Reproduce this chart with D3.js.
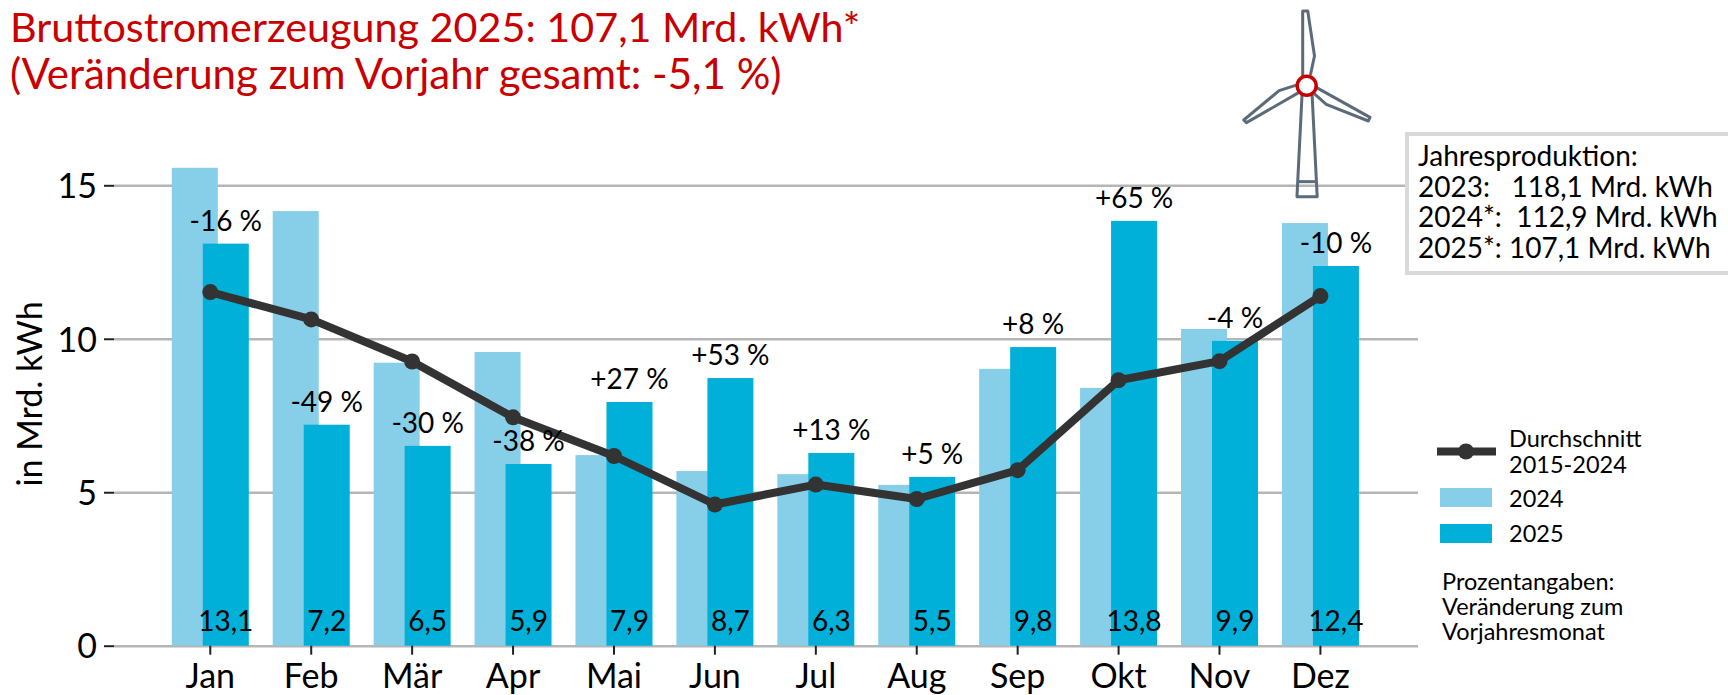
<!DOCTYPE html>
<html lang="de"><head><meta charset="utf-8">
<script src="https://cdn.jsdelivr.net/npm/d3@7/dist/d3.min.js"></script>
<style>
html,body{margin:0;padding:0;background:#fff;overflow:hidden}
text{font-family:Lato,"Noto Sans",sans-serif;fill:#000;white-space:pre}
</style></head><body><svg id="c" width="1728" height="695"></svg>
<script>
const months=["Jan","Feb","Mär","Apr","Mai","Jun","Jul","Aug","Sep","Okt","Nov","Dez"];
const values2024=[15.57,14.16,9.22,9.57,6.21,5.69,5.59,5.24,9.02,8.40,10.32,13.77];
const values2025=[13.1,7.2,6.51,5.92,7.94,8.72,6.28,5.5,9.73,13.84,9.93,12.37];
const labels2025=["13,1","7,2","6,5","5,9","7,9","8,7","6,3","5,5","9,8","13,8","9,9","12,4"];
const changes=["-16 %","-49 %","-30 %","-38 %","+27 %","+53 %","+13 %","+5 %","+8 %","+65 %","-4 %","-10 %"];
const average=[11.52,10.63,9.26,7.44,6.18,4.6,5.25,4.78,5.72,8.65,9.27,11.39];
const yTicks=[0,5,10,15];
const titleLines=["Bruttostromerzeugung 2025: 107,1 Mrd. kWh*","(Veränderung zum Vorjahr gesamt: -5,1 %)"];
const titleSizes=[41.3,42];
const boxLines=["Jahresproduktion:","2023:   118,1 Mrd. kWh","2024*:  112,9 Mrd. kWh","2025*: 107,1 Mrd. kWh"];
const noteLines=["Prozentangaben:","Veränderung zum","Vorjahresmonat"];

const svg=d3.select("#c");
const x=d3.scaleBand().domain(months).range([159.84,1370.88]);
const y=d3.scaleLinear().domain([0,15]).range([645.7,185.3]);
const cx=m=>x(m)+x.bandwidth()/2;
const barW=46, off=15.5;

// grid
const grid=svg.append("g").attr("transform","translate(114,0)")
  .call(d3.axisLeft(y).tickValues(yTicks).tickSize(-1304).tickFormat(""));
grid.select(".domain").remove();
grid.selectAll("line").attr("stroke","#b5b5b5").attr("stroke-width",2.5);

// bars
svg.append("g").selectAll("rect").data(months).join("rect")
  .attr("x",m=>cx(m)-off-barW/2).attr("width",barW)
  .attr("y",(m,i)=>y(values2024[i])).attr("height",(m,i)=>y(0)-y(values2024[i]))
  .attr("fill","#87CEE8");
svg.append("g").selectAll("rect").data(months).join("rect")
  .attr("x",m=>cx(m)+off-barW/2).attr("width",barW)
  .attr("y",(m,i)=>y(values2025[i])).attr("height",(m,i)=>y(0)-y(values2025[i]))
  .attr("fill","#00B0D9");

// axes
const ya=svg.append("g").attr("transform","translate(114,0)")
  .call(d3.axisLeft(y).tickValues(yTicks).tickSize(10).tickPadding(7));
ya.select(".domain").remove();
ya.selectAll("line").attr("stroke","#222").attr("stroke-width",2);
ya.selectAll("text").attr("font-size",34).attr("dy","0.36em").style("font-family","Lato");
const xa=svg.append("g").attr("transform","translate(0,645.7)")
  .call(d3.axisBottom(x).offset(0).tickSize(9).tickPadding(9));
xa.select(".domain").remove();
xa.selectAll("line").attr("stroke","#222").attr("stroke-width",2);
xa.selectAll("text").attr("font-size",34).style("font-family","Lato");

// average line
const lineGen=d3.line().x((d,i)=>cx(months[i])).y(d=>y(d));
svg.append("path").datum(average).attr("d",lineGen).attr("fill","none")
  .attr("stroke","#333").attr("stroke-width",8).attr("stroke-linejoin","round");
svg.append("g").selectAll("circle").data(average).join("circle")
  .attr("cx",(d,i)=>cx(months[i])).attr("cy",d=>y(d)).attr("r",8).attr("fill","#333");

// labels
svg.append("g").selectAll("text").data(changes).join("text")
  .attr("x",(d,i)=>cx(months[i])+off).attr("y",(d,i)=>y(values2025[i])-13)
  .attr("text-anchor","middle").attr("font-size",28).text(d=>d);
svg.append("g").selectAll("text").data(labels2025).join("text")
  .attr("x",(d,i)=>cx(months[i])+off).attr("y",631)
  .attr("text-anchor","middle").attr("font-size",28).text(d=>d);

// y title
svg.append("text").attr("transform","translate(42,394) rotate(-90)")
  .attr("text-anchor","middle").attr("font-size",34).text("in Mrd. kWh");

// title
svg.append("g").selectAll("text").data(titleLines).join("text")
  .attr("x",10).attr("y",(d,i)=>42+i*47).attr("font-size",(d,i)=>titleSizes[i])
  .style("fill","#C80000").text(d=>d);

// info box
svg.append("rect").attr("x",1407).attr("y",134).attr("width",340).attr("height",139)
  .attr("fill","#fff").attr("stroke","#d9d9d9").attr("stroke-width",4);
svg.append("g").selectAll("text").data(boxLines).join("text")
  .attr("x",1418).attr("y",(d,i)=>166+i*30.7).attr("font-size",28).text(d=>d);

// legend
svg.append("line").attr("x1",1437).attr("x2",1496).attr("y1",451.5).attr("y2",451.5)
  .attr("stroke","#333").attr("stroke-width",8);
svg.append("circle").attr("cx",1466).attr("cy",451.5).attr("r",8).attr("fill","#333");
svg.append("text").attr("x",1509).attr("y",447).attr("font-size",23.5).text("Durchschnitt");
svg.append("text").attr("x",1509).attr("y",473).attr("font-size",23.5).text("2015-2024");
svg.append("rect").attr("x",1440).attr("y",488).attr("width",52).attr("height",19).attr("fill","#87CEE8");
svg.append("text").attr("x",1509).attr("y",507).attr("font-size",23.5).text("2024");
svg.append("rect").attr("x",1440).attr("y",524).attr("width",52).attr("height",19).attr("fill","#00B0D9");
svg.append("text").attr("x",1509).attr("y",542).attr("font-size",23.5).text("2025");
svg.append("g").selectAll("text").data(noteLines).join("text")
  .attr("x",1442).attr("y",(d,i)=>590+i*25).attr("font-size",23.5).text(d=>d);

// wind turbine icon
const icon=svg.append("g").attr("transform","translate(1200,0) scale(0.3367,0.3333)")
  .attr("fill","none").attr("stroke","#5B6B7A").attr("stroke-width",3).attr("stroke-linejoin","round");
["M303,285L288,590H348L333,285","M291,545H345",
 "M305,230V33H320L340,168L328,225",
 "M293,253L235,272L130,360L138,368L293,278",
 "M345,262L505,352L500,363L375,313L340,282"]
 .forEach(d=>icon.append("path").attr("d",d).attr("vector-effect","non-scaling-stroke"));
svg.append("circle").attr("cx",1306.7).attr("cy",85.7).attr("r",9.5)
  .attr("fill","#fff").attr("stroke","#C80000").attr("stroke-width",3.5);
</script></body></html>
